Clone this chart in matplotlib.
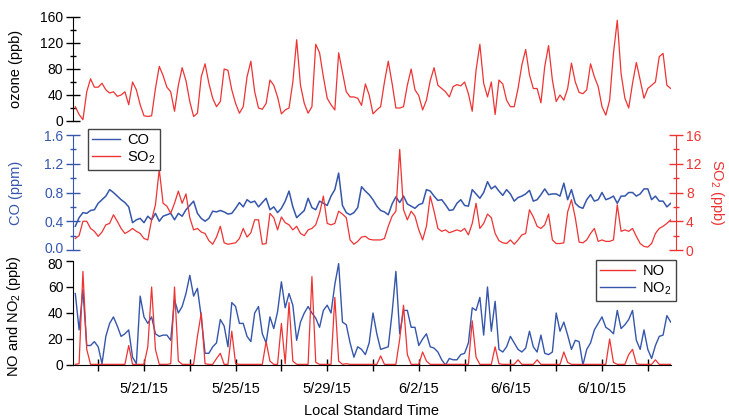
import pandas as pd
import matplotlib
matplotlib.use('Agg')
import matplotlib.pyplot as plt
import matplotlib.transforms as mtransforms
from matplotlib.ticker import MultipleLocator, FormatStrFormatter
from matplotlib.lines import Line2D

plt.rcParams['font.family'] = ['Liberation Sans', 'DejaVu Sans']
plt.rcParams['mathtext.default'] = 'regular'
plt.rcParams['font.size'] = 10.5
plt.rcParams['ytick.labelsize'] = 10

RED = '#ee3333'
BLUE = '#3556ab'

# 4-hourly values starting 5/18/15 00:00 (one row per day)
ozone = [
    22, 10, 2, 45, 65, 52,
    52, 58, 48, 43, 45, 38,
    40, 45, 25, 60, 48, 25,
    8, 7, 8, 50, 84, 70,
    52, 45, 15, 55, 82, 62,
    30, 7, 12, 68, 88, 58,
    35, 22, 30, 80, 78, 48,
    27, 12, 22, 68, 92, 45,
    20, 18, 27, 63, 55, 37,
    11, 17, 20, 60, 125, 55,
    27, 12, 22, 118, 105, 68,
    35, 25, 17, 105, 75, 45,
    37, 37, 35, 24, 57, 40,
    11, 17, 22, 60, 92, 58,
    20, 20, 22, 55, 80, 48,
    39, 17, 32, 62, 82, 55,
    50, 45, 37, 53, 56, 54,
    60, 42, 15, 78, 118, 58,
    37, 60, 10, 63, 57, 32,
    22, 22, 50, 86, 110, 71,
    50, 50, 28, 84, 116, 63,
    30, 40, 32, 50, 89, 60,
    44, 42, 48, 88, 68, 53,
    22, 9, 32, 104, 155, 73,
    35, 20, 58, 90, 63, 35,
    50, 55, 60, 99, 104, 55,
    50]

co = [
    0.33, 0.45, 0.52, 0.51, 0.55, 0.56,
    0.65, 0.70, 0.75, 0.84, 0.80, 0.75,
    0.70, 0.66, 0.60, 0.38, 0.42, 0.44,
    0.38, 0.47, 0.42, 0.51, 0.40, 0.47,
    0.49, 0.51, 0.42, 0.51, 0.47, 0.56,
    0.62, 0.68, 0.51, 0.44, 0.40, 0.44,
    0.54, 0.53, 0.55, 0.53, 0.50, 0.51,
    0.58, 0.66, 0.60, 0.70, 0.66, 0.68,
    0.60, 0.66, 0.72, 0.56, 0.60, 0.52,
    0.58, 0.68, 0.82, 0.60, 0.45, 0.50,
    0.55, 0.72, 0.59, 0.56, 0.68, 0.65,
    0.62, 0.75, 0.84, 1.07, 0.62, 0.52,
    0.49, 0.52, 0.59, 0.88, 0.82, 0.77,
    0.70, 0.61, 0.55, 0.53, 0.49, 0.64,
    0.74, 0.66, 0.75, 0.64, 0.61, 0.58,
    0.63, 0.65, 0.84, 0.82, 0.75, 0.69,
    0.70, 0.63, 0.55, 0.56, 0.65, 0.70,
    0.62, 0.61, 0.84, 0.78, 0.72, 0.80,
    0.95, 0.85, 0.89, 0.82, 0.76, 0.84,
    0.78, 0.68, 0.73, 0.75, 0.78, 0.83,
    0.68, 0.70, 0.77, 0.85, 0.77, 0.78,
    0.78, 0.75, 0.93, 0.70, 0.84, 0.65,
    0.60, 0.58, 0.70, 0.77, 0.68, 0.70,
    0.80, 0.70, 0.72, 0.75, 0.65, 0.75,
    0.75, 0.80, 0.80, 0.75, 0.78, 0.85,
    0.85, 0.70, 0.75, 0.68, 0.68, 0.60,
    0.65]

so2 = [
    1.6, 2.0, 4.0, 4.0, 3.0, 2.6,
    1.9, 2.5, 3.5, 3.7, 4.9, 4.0,
    3.0, 2.3, 2.6, 3.0, 2.6, 2.3,
    1.6, 1.4, 4.2, 6.3, 11.2, 6.5,
    6.1, 5.1, 6.5, 8.2, 6.5, 7.8,
    4.5, 2.8, 3.0, 2.5, 2.3, 1.3,
    0.8, 1.8, 3.3, 1.0, 0.8, 0.9,
    1.0, 1.6, 3.0, 1.8, 2.4, 4.2,
    4.2, 0.8, 0.9, 5.1, 4.5, 2.8,
    4.6, 3.8, 3.5, 2.8, 3.3, 2.3,
    2.0, 2.8, 3.0, 3.5, 5.1, 7.5,
    3.7, 3.5, 3.7, 5.4, 5.0, 4.5,
    1.4, 0.8, 1.2, 1.8, 1.9, 1.5,
    1.4, 1.4, 1.4, 1.6, 3.3, 4.7,
    5.4, 14.0, 5.6, 4.2, 5.4, 4.7,
    2.8, 1.4, 3.3, 7.5, 5.4, 3.0,
    2.6, 2.8, 2.4, 2.6, 2.8, 2.6,
    3.0, 2.1, 3.7, 6.5, 3.0, 3.7,
    5.0, 4.5, 2.3, 1.3, 1.0, 0.9,
    1.4, 0.8, 1.4, 2.1, 2.3, 5.6,
    4.6, 3.3, 3.0, 3.5, 5.0, 1.4,
    0.9, 0.9, 1.0, 5.3, 7.0, 4.5,
    1.1, 1.0, 1.4, 2.3, 3.0, 1.2,
    1.4, 1.2, 1.2, 1.4, 6.3, 2.6,
    2.8, 2.6, 3.0, 1.9, 0.9, 0.5,
    0.4, 0.9, 2.3, 3.0, 3.3, 3.7,
    4.2]

no2 = [
    55, 27, 58, 15, 15, 18,
    14, 1, 22, 32, 37, 30,
    22, 24, 27, 6, 1, 53,
    37, 32, 37, 24, 22, 23,
    23, 19, 50, 40, 45, 55,
    69, 53, 59, 37, 9, 9,
    14, 17, 35, 30, 14, 48,
    45, 32, 32, 22, 18, 40,
    45, 24, 17, 37, 28, 41,
    64, 44, 55, 46, 19, 33,
    40, 45, 40, 36, 29, 42,
    46, 40, 62, 78, 33, 31,
    17, 6, 14, 12, 8, 17,
    40, 24, 12, 13, 14, 40,
    72, 24, 42, 42, 29, 29,
    15, 20, 24, 14, 13, 10,
    4, 0, 5, 4, 4, 8,
    9, 17, 44, 42, 52, 23,
    60, 26, 49, 12, 10, 14,
    22, 17, 12, 10, 13, 26,
    14, 10, 23, 9, 8, 10,
    40, 26, 33, 23, 12, 19,
    18, 0, 12, 17, 27, 32,
    37, 29, 27, 24, 42, 28,
    31, 35, 42, 19, 12, 27,
    12, 5, 15, 22, 23, 38,
    33]

no = [
    0.5, 1, 72, 12, 0.5, 0.5,
    0.5, 0.5, 0.5, 0.5, 0.5, 0.5,
    0.5, 0.5, 15, 0.5, 0.5, 0.5,
    0.5, 14, 60, 12, 0.5, 0.5,
    0.5, 1, 60, 3, 0.5, 0.5,
    0.5, 0.5, 22, 40, 1, 0.5,
    0.5, 5, 9, 0.5, 0.5, 26,
    1, 0.5, 0.5, 0.5, 0.5, 0.5,
    0.5, 0.5, 18, 3, 0.5, 0.5,
    32, 1, 48, 3, 0.5, 0.5,
    0.5, 0.5, 68, 2, 0.5, 0.5,
    0.5, 0.5, 52, 3, 0.5, 1,
    0.5, 0.5, 0.5, 0.5, 0.5, 0.5,
    0.5, 0.5, 7, 0.5, 0.5, 0.5,
    0.5, 20, 46, 8, 0.5, 0.5,
    0.5, 10, 3, 0.5, 0.5, 0.5,
    0.5, 0.5, 0.5, 0.5, 0.5, 0.5,
    0.5, 0.5, 34, 6, 0.5, 0.5,
    0.5, 0.5, 14, 1, 0.5, 0.5,
    0.5, 0.5, 4, 0.5, 0.5, 0.5,
    0.5, 4, 0.5, 0.5, 0.5, 0.5,
    0.5, 0.5, 10, 2, 0.5, 0.5,
    0.5, 0.5, 0.5, 0.5, 0.5, 0.5,
    0.5, 0.5, 20, 2, 0.5, 0.5,
    0.5, 8, 12, 1, 0.5, 0.5,
    0.5, 0.5, 4, 0.5, 0.5, 0.5,
    0.5]

times = pd.date_range('2015-05-18 00:00', periods=len(ozone), freq='4h').to_pydatetime()
tick_days = pd.date_range('2015-05-19', '2015-06-12', freq='2D').to_pydatetime()
tick_labels = [f'{d.month}/{d.day}/{d.year % 100}' if i % 2 == 1 else ''
               for i, d in enumerate(tick_days)]

xmin = pd.Timestamp('2015-05-17 21:36').to_pydatetime()
xmax = times[-1]

W_PX, H_PX = 729, 418
fig = plt.figure(figsize=(W_PX / 100, H_PX / 100), dpi=100)
left = 73 / W_PX
width = (670.7 - 73) / W_PX
ax1 = fig.add_axes([left, 1 - 121 / H_PX, width, 104 / H_PX])
ax2 = fig.add_axes([left, 1 - 250 / H_PX, width, 115 / H_PX])
ax3 = fig.add_axes([left, 1 - 365 / H_PX, width, 104 / H_PX])

YLAB_X = -0.084


def style_left(ax, color):
    for s in ['top', 'right', 'bottom']:
        ax.spines[s].set_visible(False)
    ax.spines['left'].set_color(color)
    ax.tick_params(axis='y', which='both', direction='inout', colors=color,
                   labelcolor=color, pad=2)
    ax.tick_params(axis='y', which='major', length=10, width=1)
    ax.tick_params(axis='y', which='minor', length=5, width=1)
    ax.tick_params(axis='x', which='both', bottom=False, labelbottom=False)
    ax.set_xlim(xmin, xmax)
    ax.patch.set_alpha(0)


def nudge_label(ax, loc, dy_pt):
    # shift one y tick label vertically by dy_pt points
    off = mtransforms.ScaledTranslation(0, dy_pt / 72, fig.dpi_scale_trans)
    for tick in ax.yaxis.get_major_ticks():
        if abs(tick.get_loc() - loc) < 1e-9:
            tick.label1.set_transform(tick.label1.get_transform() + off)


# ozone
ax1.plot(times, ozone, color=RED, lw=0.9)
style_left(ax1, 'black')
ax1.set_ylim(0, 160)
ax1.yaxis.set_major_locator(MultipleLocator(40))
ax1.yaxis.set_minor_locator(MultipleLocator(20))
ax1.set_ylabel('ozone (ppb)')
ax1.yaxis.set_label_coords(YLAB_X, 0.5)

# CO and SO2
ax2.plot(times, co, color=BLUE, lw=1.1)
style_left(ax2, BLUE)
ax2.set_ylim(0, 1.6)
ax2.yaxis.set_major_locator(MultipleLocator(0.4))
ax2.yaxis.set_minor_locator(MultipleLocator(0.2))
ax2.yaxis.set_major_formatter(FormatStrFormatter('%.1f'))
ax2.set_ylabel('CO (ppm)', color=BLUE)
ax2.yaxis.set_label_coords(YLAB_X, 0.5)

ax2r = ax2.twinx()
ax2r.plot(times, so2, color=RED, lw=0.9)
for s in ['top', 'left', 'bottom']:
    ax2r.spines[s].set_visible(False)
ax2r.spines['right'].set_color(RED)
ax2r.spines['right'].set_position(('outward', 4))
ax2r.set_ylim(0, 16)
ax2r.yaxis.set_major_locator(MultipleLocator(4))
ax2r.yaxis.set_minor_locator(MultipleLocator(2))
ax2r.tick_params(axis='y', which='both', direction='inout', colors=RED,
                 labelcolor=RED, pad=2)
ax2r.tick_params(axis='y', which='major', length=10, width=1)
ax2r.tick_params(axis='y', which='minor', length=5, width=1)
ax2r.tick_params(axis='x', which='both', bottom=False, labelbottom=False)
ax2r.set_xlim(xmin, xmax)
ax2r.set_ylabel('SO$_2$ (ppb)', color=RED, rotation=270, va='center')
ax2r.yaxis.set_label_coords(1.078, 0.5)

leg_handles = [Line2D([], [], color=BLUE, lw=1), Line2D([], [], color=RED, lw=1)]
ax2r.legend(leg_handles, ['CO', 'SO$_2$'], loc='upper left',
            bbox_to_anchor=(88 / W_PX, 1 - 129 / H_PX), bbox_transform=fig.transFigure,
            borderaxespad=0, frameon=True, fancybox=False, framealpha=1,
            edgecolor='#444444', handlelength=1.9, handletextpad=0.5,
            labelspacing=0.15, borderpad=0.3, fontsize=10.5)

# NO and NO2
ax3.plot(times, no2, color=BLUE, lw=1.0)
ax3.plot(times, no, color=RED, lw=0.9)
style_left(ax3, 'black')
ax3.spines['bottom'].set_visible(True)
ax3.spines['bottom'].set_color('black')
ax3.tick_params(axis='y', which='major', direction='out', length=5)
ax3.set_ylim(0, 80)
ax3.yaxis.set_major_locator(MultipleLocator(20))
ax3.tick_params(axis='x', which='both', bottom=True, labelbottom=True,
                direction='inout', length=8, width=1, pad=8)
ax3.set_xticks(tick_days)
ax3.set_xticklabels(tick_labels)
ax3.set_ylabel('NO and NO$_2$ (ppb)')
ax3.yaxis.set_label_coords(YLAB_X, 0.47)

no_handles = [Line2D([], [], color=RED, lw=1), Line2D([], [], color=BLUE, lw=1)]
ax3.legend(no_handles, ['NO', 'NO$_2$'], loc='upper right',
           bbox_to_anchor=(676 / W_PX, 1 - 260 / H_PX), bbox_transform=fig.transFigure,
           borderaxespad=0, frameon=True, fancybox=False, framealpha=1,
           edgecolor='#444444', handlelength=2.4, handletextpad=0.5,
           labelspacing=0.15, borderpad=0.3, fontsize=10.5)

fig.text((73 + 670.7) / 2 / W_PX, 1 - 411 / H_PX, 'Local Standard Time',
         ha='center', va='center', fontsize=10.5)

# keep the stacked "0.0" and "80" labels apart
fig.canvas.draw()
nudge_label(ax2, 0.0, 1.5)
nudge_label(ax3, 80, -1.5)

fig.savefig('out.png', dpi=100)
